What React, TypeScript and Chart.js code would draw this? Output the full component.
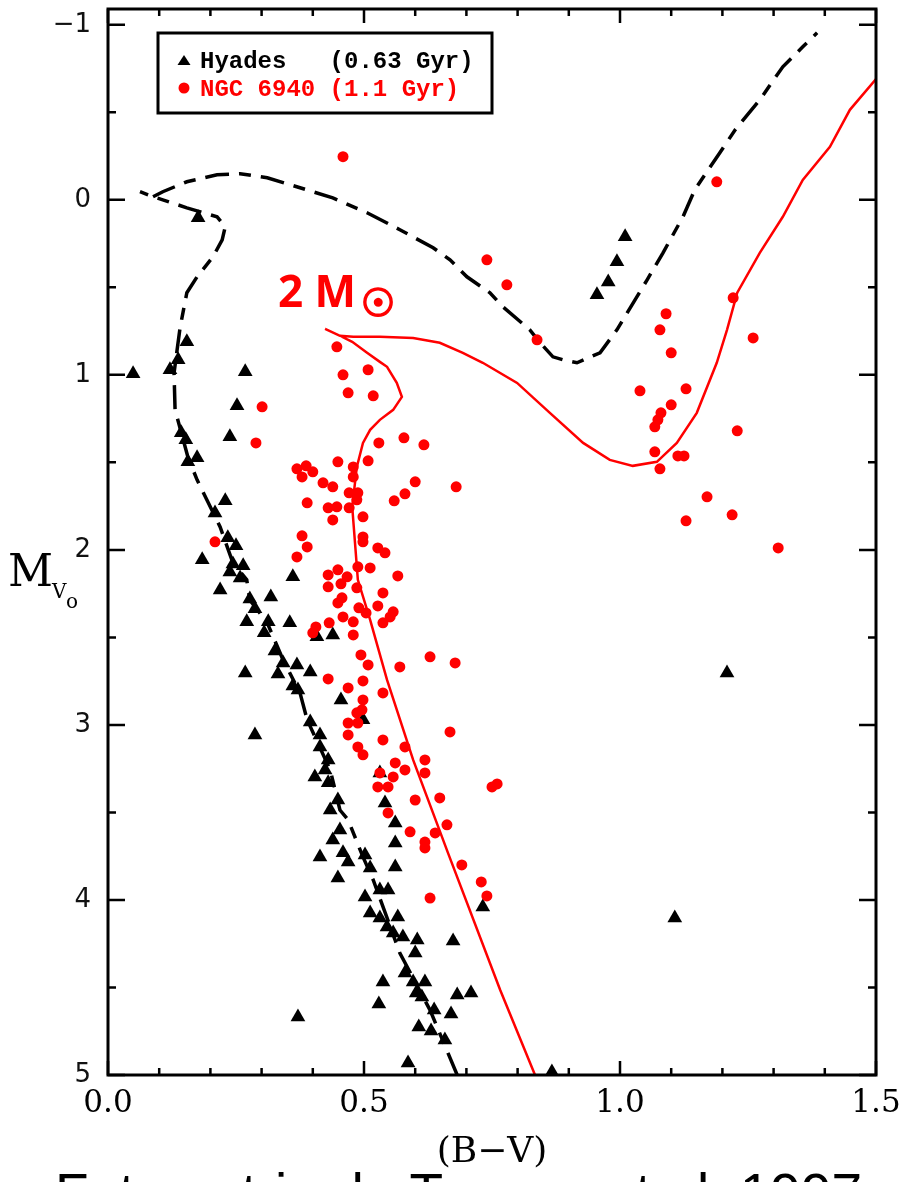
import { useEffect, useRef } from 'react';
import { Chart, registerables } from 'chart.js';

Chart.register(...registerables);

// Hyades members (black triangles): colour index and absolute magnitude
const hyadesBV = [
  0.176, 0.049, 0.154, 0.137, 0.121, 0.268, 0.252, 0.238, 0.143, 0.152,
  0.174, 0.156, 0.229, 0.209, 0.234, 0.25, 0.184, 0.244, 0.264, 0.258,
  0.238, 0.219, 0.361, 0.277, 0.318, 0.287, 0.271, 0.313, 0.355, 0.305,
  0.439, 0.408, 0.326, 0.342, 0.369, 0.395, 0.268, 0.332, 0.371, 0.455,
  0.395, 0.287, 0.414, 0.414, 0.43, 0.424, 0.404, 0.43, 0.498, 0.531,
  0.541, 0.449, 0.434, 0.561, 0.453, 0.439, 0.561, 0.414, 0.459, 0.469,
  0.502, 0.512, 0.561, 0.449, 0.502, 0.531, 0.547, 0.512, 0.531, 0.566,
  0.545, 0.557, 0.576, 0.604, 0.6, 0.674, 0.732, 0.537, 0.58, 0.596,
  0.619, 0.529, 0.371, 0.602, 0.613, 0.682, 0.709, 0.637, 0.67, 0.607,
  0.631, 0.658, 0.586, 0.867, 1.209, 1.107, 1.01, 0.994, 0.977, 0.955,
  0.361,
];
const hyadesMV = [
  0.103, 0.994, 0.811, 0.914, 0.971, 0.983, 1.177, 1.354, 1.331, 1.371,
  1.474, 1.497, 1.72, 1.789, 1.931, 1.977, 2.057, 2.08, 2.091, 2.16,
  2.126, 2.229, 2.154, 2.28, 2.269, 2.337, 2.411, 2.411, 2.417, 2.474,
  2.486, 2.497, 2.577, 2.646, 2.657, 2.697, 2.703, 2.709, 2.8, 2.857,
  2.983, 3.057, 3.057, 3.126, 3.2, 3.257, 3.297, 3.331, 2.971, 3.274,
  3.446, 3.429, 3.486, 3.56, 3.6, 3.657, 3.674, 3.754, 3.731, 3.783,
  3.743, 3.817, 3.811, 3.874, 3.983, 3.943, 3.943, 4.074, 4.103, 4.097,
  4.154, 4.189, 4.211, 4.229, 4.303, 4.234, 4.04, 4.469, 4.417, 4.469,
  4.469, 4.594, 4.669, 4.531, 4.554, 4.543, 4.531, 4.629, 4.651, 4.726,
  4.749, 4.8, 4.931, 4.983, 2.703, 4.103, 0.211, 0.354, 0.469, 0.543,
  2.777,
];

// NGC 6940 members (red dots)
const ngcBV = [
  0.459, 0.74, 0.779, 1.189, 1.221, 1.09, 1.078, 0.838, 1.1, 1.039,
  1.129, 1.1, 1.08, 1.074, 1.068, 1.068, 1.113, 1.125, 1.078, 1.229,
  1.26, 1.17, 1.129, 1.219, 1.309, 0.68, 0.447, 0.459, 0.508, 0.469,
  0.518, 0.301, 0.289, 0.529, 0.578, 0.617, 0.449, 0.508, 0.369, 0.387,
  0.379, 0.4, 0.479, 0.479, 0.42, 0.439, 0.471, 0.488, 0.6, 0.58,
  0.559, 0.389, 0.43, 0.447, 0.471, 0.486, 0.439, 0.498, 0.379, 0.389,
  0.369, 0.498, 0.498, 0.527, 0.541, 0.209, 0.43, 0.449, 0.467, 0.488,
  0.512, 0.566, 0.43, 0.455, 0.486, 0.537, 0.457, 0.449, 0.49, 0.527,
  0.557, 0.551, 0.537, 0.504, 0.459, 0.479, 0.432, 0.406, 0.4, 0.479,
  0.494, 0.629, 0.678, 0.508, 0.57, 0.43, 0.469, 0.498, 0.498, 0.537,
  0.496, 0.486, 0.469, 0.488, 0.469, 0.488, 0.498, 0.537, 0.58, 0.619,
  0.619, 0.668, 0.561, 0.58, 0.531, 0.557, 0.527, 0.547, 0.6, 0.648,
  0.547, 0.59, 0.639, 0.662, 0.619, 0.619, 0.629, 0.75, 0.76, 0.691,
  0.729, 0.74,
];
const ngcMV = [
  -0.246, 0.343, 0.486, -0.103, 0.56, 0.651, 0.743, 0.8, 0.874, 1.091,
  1.08, 1.171, 1.217, 1.257, 1.297, 1.44, 1.463, 1.463, 1.537, 1.32,
  0.789, 1.697, 1.834, 1.8, 1.989, 1.64, 0.84, 1.0, 0.971, 1.103,
  1.12, 1.183, 1.389, 1.389, 1.36, 1.4, 1.497, 1.491, 1.537, 1.52,
  1.583, 1.554, 1.526, 1.583, 1.617, 1.64, 1.674, 1.674, 1.611, 1.68,
  1.72, 1.731, 1.76, 1.754, 1.76, 1.714, 1.829, 1.811, 1.92, 1.983,
  2.04, 1.926, 1.954, 1.989, 2.017, 1.954, 2.143, 2.114, 2.154, 2.097,
  2.103, 2.149, 2.211, 2.194, 2.217, 2.246, 2.274, 2.303, 2.331, 2.32,
  2.354, 2.383, 2.417, 2.36, 2.383, 2.411, 2.417, 2.44, 2.474, 2.486,
  2.6, 2.611, 2.646, 2.657, 2.669, 2.737, 2.789, 2.749, 2.857, 2.817,
  2.914, 2.931, 2.989, 2.989, 3.057, 3.126, 3.171, 3.086, 3.126, 3.2,
  3.274, 3.04, 3.217, 3.257, 3.274, 3.297, 3.354, 3.354, 3.429, 3.417,
  3.503, 3.611, 3.617, 3.571, 3.669, 3.703, 3.989, 3.354, 3.337, 3.8,
  3.897, 3.977,
];

// 0.63 Gyr isochrone (null splits the turn-off hook from the giant branch)
const hyadesIsoBV = [
  0.682, 0.629, 0.57, 0.518, 0.498, 0.469, 0.453, 0.434, 0.389, 0.375,
  0.342, 0.311, 0.277, 0.271, 0.244, 0.219, 0.193, 0.174, 0.156, 0.131,
  0.129, 0.141, 0.154, 0.174, 0.205, 0.223, 0.229, 0.213, 0.154, 0.107,
  0.088, 0.0625, null,
  0.088, 0.107, 0.154, 0.213, 0.258, 0.311, 0.375, 0.439, 0.506, 0.57,
  0.635, 0.668, 0.701, 0.746, 0.771, 0.824, 0.844, 0.869, 0.889, 0.916,
  0.961, 0.994, 1.053, 1.084, 1.123, 1.146, 1.195, 1.225, 1.273, 1.318,
  1.357, 1.385,
];
const hyadesIsoMV = [
  5.0, 4.629, 4.303, 3.886, 3.754, 3.543, 3.486, 3.257, 2.971, 2.817,
  2.629, 2.417, 2.286, 2.171, 2.074, 1.869, 1.714, 1.6, 1.469, 1.2,
  0.989, 0.726, 0.531, 0.44, 0.326, 0.229, 0.154, 0.097, 0.046, 0.0,
  -0.017, -0.046, null,
  -0.017, -0.046, -0.103, -0.143, -0.149, -0.126, -0.069, -0.011, 0.074, 0.171,
  0.274, 0.343, 0.44, 0.531, 0.611, 0.743, 0.817, 0.897, 0.914, 0.931,
  0.874, 0.743, 0.457, 0.303, 0.097, -0.057, -0.269, -0.4, -0.571, -0.76,
  -0.874, -0.954,
];

// 1.1 Gyr isochrone
const ngcIsoBV = [
  0.834, 0.766, 0.664, 0.596, 0.545, 0.512, 0.488, 0.477, 0.486, 0.498,
  0.512, 0.531, 0.557, 0.574, 0.564, 0.545, 0.531, 0.506, 0.477, 0.449,
  0.424, 0.453, 0.479, 0.531, 0.596, 0.648, 0.693, 0.732, 0.799, 0.863,
  0.928, 0.98, 1.025, 1.072, 1.111, 1.15, 1.189, 1.209, 1.229, 1.273,
  1.318, 1.357, 1.41, 1.449, 1.5,
];
const ngcIsoMV = [
  5.0, 4.514, 3.731, 3.2, 2.743, 2.4, 2.171, 1.754, 1.526, 1.389,
  1.314, 1.257, 1.2, 1.126, 1.046, 0.954, 0.926, 0.874, 0.811, 0.771,
  0.737, 0.777, 0.783, 0.783, 0.789, 0.817, 0.874, 0.931, 1.046, 1.217,
  1.389, 1.486, 1.52, 1.497, 1.389, 1.217, 0.931, 0.743, 0.531, 0.303,
  0.097, -0.114, -0.303, -0.514, -0.69,
];

const xTickValues = [0, 0.1, 0.2, 0.3, 0.4, 0.5, 0.6, 0.7, 0.8, 0.9, 1.0, 1.1, 1.2, 1.3, 1.4, 1.5];
const yTickValues = [-1, -0.5, 0, 0.5, 1, 1.5, 2, 2.5, 3, 3.5, 4, 4.5, 5];

const legendRows = [
  { text: 'Hyades   (0.63 Gyr)', color: '#000000', marker: 'triangle' },
  { text: 'NGC 6940 (1.1 Gyr)', color: '#ff0000', marker: 'circle' },
];

const RED = '#ff0000';

const toPoints = (xs: (number | null)[], ys: (number | null)[]) =>
  xs.map((x, i) => ({ x: x as number, y: ys[i] as number }));

const isMultiple = (v: number, step: number) => Math.abs(v / step - Math.round(v / step)) < 1e-6;

const decorations = {
  id: 'cmdDecorations',
  afterDraw(chart: any) {
    const { ctx, chartArea, scales } = chart;
    const { left, right, top, bottom } = chartArea;
    const xs = scales.x;
    const ys = scales.y;
    ctx.save();

    // frame
    ctx.strokeStyle = '#000';
    ctx.lineWidth = 3;
    ctx.strokeRect(left, top, right - left, bottom - top);

    // inward ticks on all four sides
    ctx.lineWidth = 2.5;
    ctx.beginPath();
    xs.ticks.forEach((t: any) => {
      const px = xs.getPixelForValue(t.value);
      const len = isMultiple(t.value, 0.5) ? 14 : 7;
      ctx.moveTo(px, bottom);
      ctx.lineTo(px, bottom - len);
      ctx.moveTo(px, top);
      ctx.lineTo(px, top + len);
    });
    ys.ticks.forEach((t: any) => {
      const py = ys.getPixelForValue(t.value);
      const len = isMultiple(t.value, 1) ? 17 : 8;
      ctx.moveTo(left, py);
      ctx.lineTo(left + len, py);
      ctx.moveTo(right, py);
      ctx.lineTo(right - len, py);
    });
    ctx.stroke();

    // legend box
    ctx.lineWidth = 3;
    ctx.strokeRect(158, 33, 334, 80);
    ctx.font = "bold 24px 'Liberation Mono'";
    ctx.textBaseline = 'alphabetic';
    ctx.textAlign = 'left';
    legendRows.forEach((row, i) => {
      const cy = 61 + i * 27;
      ctx.fillStyle = row.color;
      ctx.beginPath();
      if (row.marker === 'triangle') {
        ctx.moveTo(184, cy - 6);
        ctx.lineTo(190.5, cy + 4);
        ctx.lineTo(177.5, cy + 4);
        ctx.closePath();
      } else {
        ctx.arc(184, cy, 5.5, 0, Math.PI * 2);
      }
      ctx.fill();
      ctx.fillText(row.text, 200, cy + 7 + i);
    });

    // mass label at the isochrone turn-off
    ctx.fillStyle = RED;
    ctx.strokeStyle = RED;
    ctx.font = "bold 44px 'Open Sans'";
    ctx.fillText('2 M', 278, 307);
    ctx.font = "bold 38px 'DejaVu Sans'";
    ctx.textAlign = 'center';
    ctx.textBaseline = 'middle';
    ctx.lineWidth = 2;
    ctx.fillText('\u2609', 378, 306);
    ctx.strokeText('\u2609', 378, 306);

    // axis titles
    ctx.fillStyle = '#000';
    ctx.textAlign = 'center';
    ctx.textBaseline = 'alphabetic';
    ctx.font = "36px 'DejaVu Serif'";
    ctx.fillText('(B\u2212V)', (left + right) / 2, 1162);

    ctx.textAlign = 'left';
    ctx.font = "44px 'DejaVu Serif'";
    ctx.fillText('M', 8, 586);
    ctx.font = "20px 'DejaVu Serif'";
    ctx.fillText('V', 52, 598);
    ctx.fillText('o', 66, 608);

    // source note
    ctx.font = "55px 'Liberation Sans'";
    ctx.fillText('Fotometria de Twarog et al. 1997', 55, 1212);

    ctx.restore();
  },
};

export default function App() {
  const canvasRef = useRef<HTMLCanvasElement>(null);

  useEffect(() => {
    const canvas = canvasRef.current;
    if (!canvas) return;
    const chart = new Chart(canvas, {
      type: 'scatter',
      data: {
        datasets: [
          {
            label: 'NGC 6940',
            data: toPoints(ngcBV, ngcMV),
            pointStyle: 'circle',
            pointRadius: 5.5,
            pointBackgroundColor: RED,
            pointBorderWidth: 0,
            borderWidth: 0,
            showLine: false,
          },
          {
            label: 'Hyades',
            data: toPoints(hyadesBV, hyadesMV),
            pointStyle: 'triangle',
            pointRadius: 8.5,
            pointBackgroundColor: '#000',
            pointBorderWidth: 0,
            borderWidth: 0,
            showLine: false,
          },
          {
            label: 'Isócrona 1.1 Gyr',
            data: toPoints(ngcIsoBV, ngcIsoMV),
            showLine: true,
            borderColor: RED,
            borderWidth: 2.5,
            pointRadius: 0,
            tension: 0,
            fill: false,
          },
          {
            label: 'Isócrona 0.63 Gyr',
            data: toPoints(hyadesIsoBV, hyadesIsoMV),
            showLine: true,
            borderColor: '#000',
            borderWidth: 3.5,
            borderDash: [24, 10, 12, 10],
            pointRadius: 0,
            tension: 0,
            spanGaps: false,
            fill: false,
          },
        ],
      },
      options: {
        responsive: false,
        devicePixelRatio: 1,
        animation: false,
        layout: { padding: { left: 0, right: 27, top: 9, bottom: 0 } },
        plugins: { legend: { display: false }, tooltip: { enabled: false } },
        scales: {
          x: {
            type: 'linear',
            min: 0,
            max: 1.5,
            afterBuildTicks: (s: any) => {
              s.ticks = xTickValues.map((v) => ({ value: v }));
            },
            afterFit: (s: any) => {
              s.height = 107;
              s.paddingLeft = 0;
              s.paddingRight = 0;
            },
            grid: { display: false, drawTicks: false },
            border: { display: false },
            ticks: {
              autoSkip: false,
              maxRotation: 0,
              padding: 10,
              color: '#000',
              font: { family: 'DejaVu Serif', size: 31 },
              callback: (v: any) => (isMultiple(Number(v), 0.5) ? Number(v).toFixed(1) : ''),
            },
          },
          y: {
            type: 'linear',
            reverse: true,
            min: -1.09,
            max: 5,
            afterBuildTicks: (s: any) => {
              s.ticks = yTickValues.map((v) => ({ value: v }));
            },
            afterFit: (s: any) => {
              s.width = 108;
              s.paddingTop = 0;
              s.paddingBottom = 0;
            },
            grid: { display: false, drawTicks: false },
            border: { display: false },
            ticks: {
              autoSkip: false,
              padding: 17,
              color: '#111',
              font: { family: 'DejaVu Sans', size: 26 },
              callback: (v: any) => {
                const n = Number(v);
                if (!Number.isInteger(n)) return '';
                return n < 0 ? '\u2212' + Math.abs(n) : String(n);
              },
            },
          },
        },
      },
      plugins: [decorations],
    } as any);
    return () => chart.destroy();
  }, []);

  return (
    <div
      style={{
        position: 'fixed',
        left: 0,
        top: 0,
        width: 903,
        height: 1182,
        overflow: 'hidden',
        background: '#fff',
      }}
    >
      <canvas ref={canvasRef} width={903} height={1182} style={{ display: 'block', width: 903, height: 1182 }} />
    </div>
  );
}
